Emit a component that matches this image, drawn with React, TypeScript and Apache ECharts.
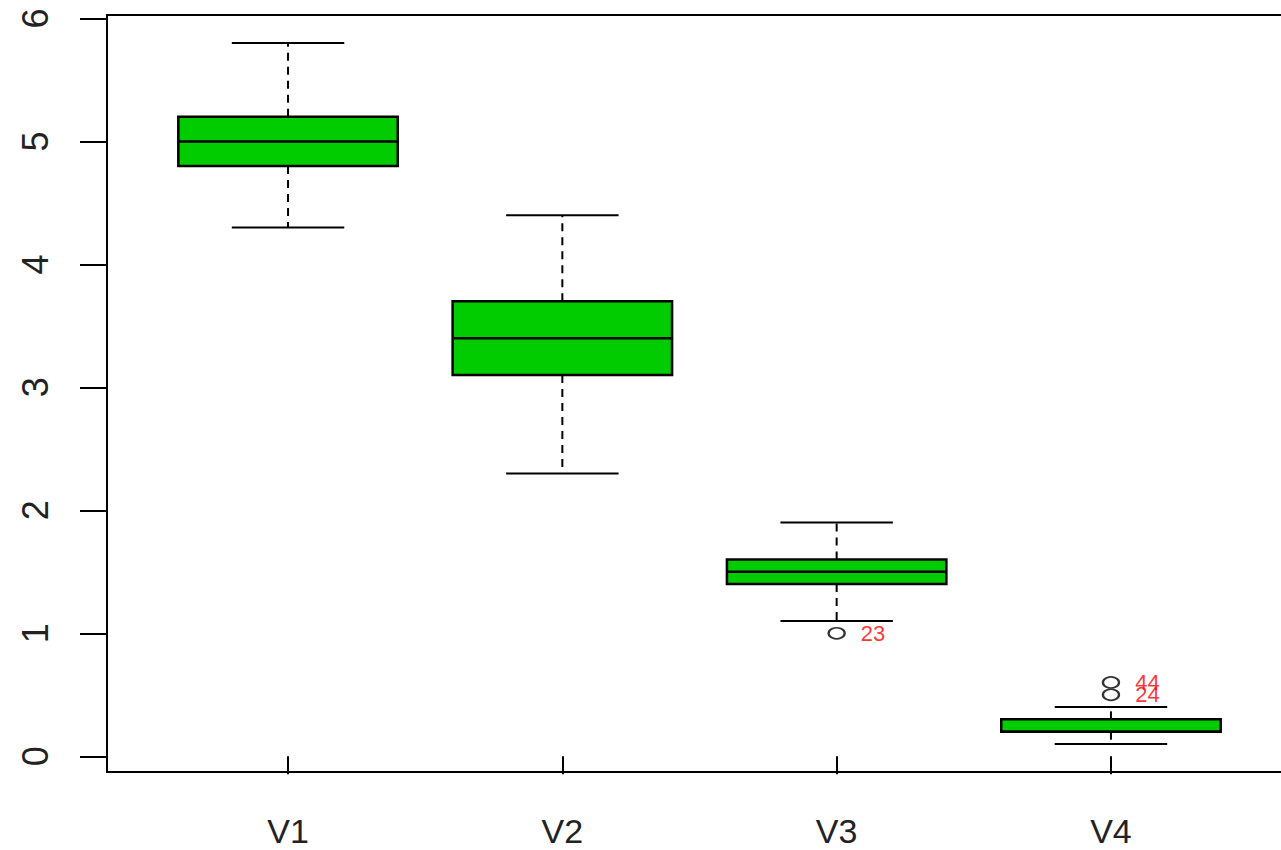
import React, { useEffect, useRef } from "react";
import * as echarts from "echarts";

const categories = ["V1", "V2", "V3", "V4"];
const positions = [1, 2, 3, 4];
const whiskerLow = [4.3, 2.3, 1.1, 0.1];
const q1 = [4.8, 3.1, 1.4, 0.2];
const median = [5.0, 3.4, 1.5, 0.2];
const q3 = [5.2, 3.7, 1.6, 0.3];
const whiskerHigh = [5.8, 4.4, 1.9, 0.4];

const outlierX = [3, 4, 4];
const outlierY = [1.0, 0.5, 0.6];
const outlierLabels = ["23", "24", "44"];

const yTicks = [0, 1, 2, 3, 4, 5, 6];

export default function App() {
  const ref = useRef<HTMLDivElement>(null);
  useEffect(() => {
    if (!ref.current) return;
    const chart = echarts.init(ref.current, null, { renderer: "svg" });
    const boxData = positions.map((p, i) => [p, whiskerLow[i], q1[i], median[i], q3[i], whiskerHigh[i]]);
    const outData = outlierX.map((x, i) => [x, outlierY[i], outlierLabels[i]]);
    const stroke = "#000";
    chart.setOption({
      animation: false,
      backgroundColor: "#fff",
      grid: {
        left: 107,
        right: 8,
        top: 15,
        bottom: 78,
        show: true,
        borderColor: "#000",
        borderWidth: 2,
        backgroundColor: "transparent",
      },
      xAxis: {
        type: "value",
        min: 0.34,
        max: 4.66,
        axisLine: { show: false },
        splitLine: { show: false },
        axisTick: {
          show: true,
          length: 18,
          customValues: positions,
          lineStyle: { color: "#000", width: 2 },
        },
        axisLabel: {
          customValues: positions,
          formatter: (v: number) => categories[Math.round(v) - 1] ?? "",
          fontSize: 34,
          lineHeight: 28,
          fontFamily: "Liberation Sans, Arial, sans-serif",
          color: "#222",
          margin: 45,
        },
      },
      yAxis: {
        type: "value",
        min: -0.128,
        max: 6.028,
        axisLine: { show: false },
        splitLine: { show: false },
        axisTick: {
          show: true,
          length: 27,
          customValues: yTicks,
          lineStyle: { color: "#000", width: 2 },
        },
        axisLabel: {
          customValues: yTicks,
          rotate: 90,
          fontSize: 36,
          fontFamily: "Liberation Sans, Arial, sans-serif",
          color: "#222",
          margin: 54,
        },
      },
      series: [
        {
          type: "custom",
          data: boxData,
          renderItem: (params: any, api: any) => {
            const x = api.value(0);
            const pLow = api.coord([x, api.value(1)]);
            const pQ1 = api.coord([x, api.value(2)]);
            const pMed = api.coord([x, api.value(3)]);
            const pQ3 = api.coord([x, api.value(4)]);
            const pHigh = api.coord([x, api.value(5)]);
            const boxW = api.size([0.8, 0])[0];
            const capW = api.size([0.41, 0])[0];
            const cx = pMed[0];
            const dash = { stroke, lineWidth: 2, lineDash: [8, 6] };
            const solid = { stroke, lineWidth: 2 };
            return {
              type: "group",
              children: [
                { type: "line", shape: { x1: cx, y1: pQ3[1], x2: cx, y2: pHigh[1] }, style: dash },
                { type: "line", shape: { x1: cx, y1: pQ1[1], x2: cx, y2: pLow[1] }, style: dash },
                { type: "line", shape: { x1: cx - capW / 2, y1: pHigh[1], x2: cx + capW / 2, y2: pHigh[1] }, style: solid },
                { type: "line", shape: { x1: cx - capW / 2, y1: pLow[1], x2: cx + capW / 2, y2: pLow[1] }, style: solid },
                {
                  type: "rect",
                  shape: { x: cx - boxW / 2, y: pQ3[1], width: boxW, height: pQ1[1] - pQ3[1] },
                  style: { fill: "#00CC00", stroke, lineWidth: 2.5 },
                },
                { type: "line", shape: { x1: cx - boxW / 2, y1: pMed[1], x2: cx + boxW / 2, y2: pMed[1] }, style: { stroke, lineWidth: 2.5 } },
              ],
            };
          },
        },
        {
          type: "scatter",
          data: outData,
          symbol: "circle",
          symbolSize: [16, 11],
          itemStyle: { color: "#fff", borderColor: "#000", borderWidth: 2 },
          label: {
            show: true,
            position: "right",
            distance: 15,
            formatter: (p: any) => p.value[2],
            color: "#ff0000",
            fontSize: 22,
            fontFamily: "Liberation Sans, Arial, sans-serif",
          },
        },
      ],
    });
    return () => chart.dispose();
  }, []);
  return (
    <div style={{ position: "absolute", left: 0, top: 0, width: 1281, height: 850, overflow: "hidden" }}>
      <div ref={ref} style={{ width: 1300, height: 850 }} />
    </div>
  );
}
